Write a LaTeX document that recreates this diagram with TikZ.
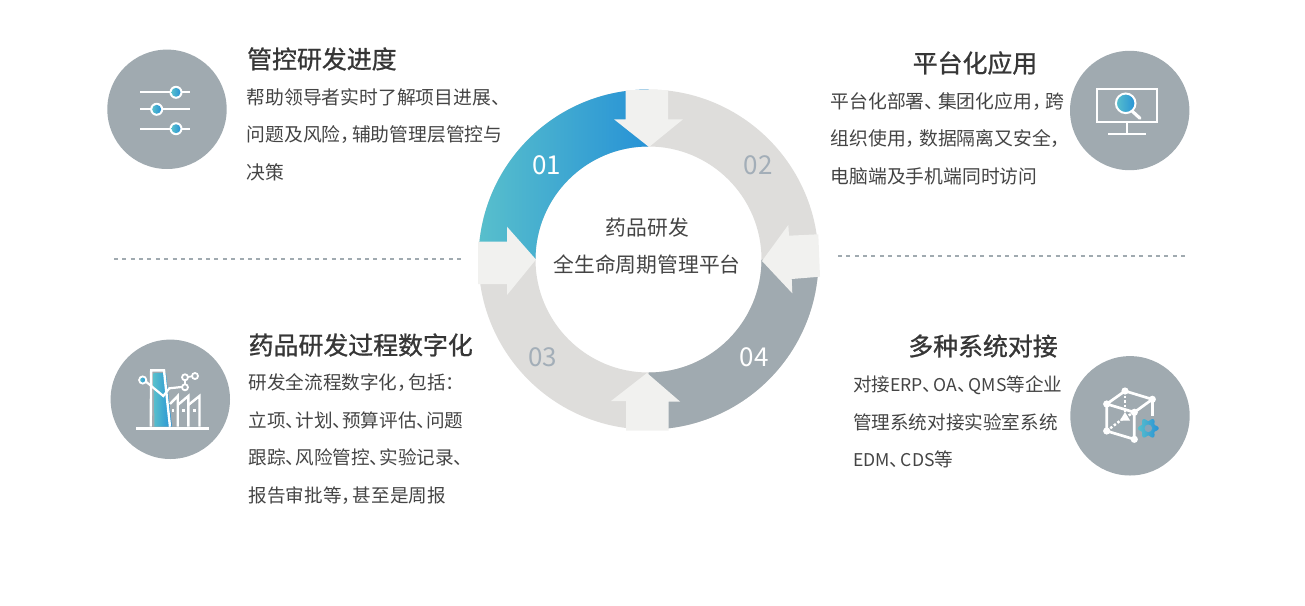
\documentclass[tikz,border=0pt]{standalone}
\usepackage{fontspec}
\setmainfont{Noto Sans CJK SC}
\newfontfamily\headfont[FakeBold=1.0]{Noto Sans CJK SC}
\usetikzlibrary{calc}
\definecolor{ringgray}{HTML}{DEDDDB}
\definecolor{arrowgray}{HTML}{F1F1EF}
\definecolor{slate}{HTML}{A0AAB0}
\definecolor{numgray}{HTML}{A3AEB8}
\definecolor{txtgray}{HTML}{444444}
\definecolor{blueL}{HTML}{58BFCC}
\definecolor{blueR}{HTML}{2792D6}
\newcommand{\dunhao}[1][7.5]{、\kern-#1pt}
\newcommand{\douhao}[1][7.5]{，\kern-#1pt}
\newcommand{\latn}[1]{{\fontsize{17.6}{37.5}\selectfont #1}}
\tikzset{
  titletxt/.style={inner sep=0pt,text=txtgray!80!black,font=\fontsize{24.9}{30}\selectfont\headfont},
  bodytxt/.style={inner sep=0pt,text=txtgray,align=left,anchor=north west,font=\fontsize{18.6}{37.5}\selectfont},
  bodywide/.style={bodytxt,font=\fontsize{18.8}{37.5}\selectfont},
  numtxt/.style={inner sep=0pt,font=\fontsize{26}{30}\selectfont},
  disc/.style={fill=slate},
  iconline/.style={draw=white,line width=2.4pt},
  bluefade/.style={left color=blueL,right color=blueR},
  divider/.style={draw=slate,line width=1.5pt,dash pattern=on 4pt off 4.37pt},
  pointer/.style={fill=arrowgray}
}
\begin{document}
\begin{tikzpicture}[x=1pt,y=1pt,yscale=-1]
  \useasboundingbox (0,0) rectangle (1305,605);

  %ring
  \fill[ringgray,even odd rule] (648.5,259.5) circle (170) (648.5,259.5) circle (113);
  \shade[bluefade] (478.5,259.5) arc (180:270:170) -- (648.5,146.5) arc (270:180:113) -- cycle;
  \fill[slate] (818.5,259.5) arc (0:90:170) -- (648.5,372.5) arc (90:0:113) -- cycle;

  %arrows between the segments
  \fill[pointer] (649,147) -- (614,119.3) -- (625.7,119.3) -- (625.7,90) -- (668,90) -- (668,119.3) -- (683,119.3) -- cycle;
  \fill[pointer] (536,259.5) -- (507,226.7) -- (507,241.7) -- (478,241.7) -- (478,284) -- (507,284) -- (507,295) -- cycle;
  \fill[pointer] (762,261) -- (788.3,225) -- (789,235.7) -- (818.3,234.3) -- (820,276.7) -- (791.7,279) -- (792.3,293.3) -- cycle;
  \fill[pointer] (647,373) -- (611,401) -- (626,401) -- (626,430.6) -- (668.7,430.6) -- (668.7,401.5) -- (680,401.5) -- cycle;

  %numbers
  \node[numtxt,text=white] (num01) at (546.8,165.5) {01};
  \node[numtxt,text=numgray] (num02) at (758.3,165.5) {02};
  \node[numtxt,text=numgray] (num03) at (542.8,357.5) {03};
  \node[numtxt,text=white] (num04) at (754,357.5) {04};

  %center
  \node[inner sep=0pt,text=txtgray,font=\fontsize{20.8}{20.8}\selectfont] (centerA) at (647.2,228) {药品研发};
  \node[inner sep=0pt,text=txtgray,font=\fontsize{20.8}{20.8}\selectfont] (centerB) at (647,265) {全生命周期管理平台};

  %dividers
  \draw[divider] (114,259) -- (461,259);
  \draw[divider,line width=1.2pt] (838,256) -- (1185,256);

  %top left
  \fill[disc] (167,109.3) circle (59.7);
  \foreach \y/\k in {92.3/176,109.3/156.7,128.7/176}{
    \draw[iconline,line width=2.2pt] (140,\y) -- (190,\y);
    \fill[white] (\k,\y) circle (6.5);
    \shade[bluefade] (\k,\y) circle (4.5);
  }
  \node[titletxt,anchor=west] (titleA) at (247,59) {管控研发进度};
  \node[bodywide] (bodyA) at (246.5,88) {帮助领导者实时了解项目进展\dunhao\\问题及风险\douhao 辅助管理层管控与\\决策};

  %top right
  \fill[disc] (1129.7,110.5) circle (59.7);
  \draw[iconline,line width=2.2pt] (1096.7,89.3) rectangle (1157.3,121.7);
  \draw[iconline,line width=2.2pt] (1126.7,121.7) -- (1126.7,133.7);
  \draw[iconline,line width=2.2pt] (1108.3,133.7) -- (1145.7,133.7);
  \draw[draw=white,line width=3.2pt,line cap=round] (1132,111) -- (1140,118.3);
  \shade[bluefade,draw=white,line width=2pt] (1125.7,103.3) circle (9.8);
  \node[titletxt,anchor=center] (titleB) at (975,63) {平台化应用};
  \node[bodywide] (bodyB) at (830.5,92) {平台化部署\dunhao[5.5] 集团化应用\douhao[5.5] 跨\\组织使用\douhao[5.5] 数据隔离又安全\douhao\\电脑端及手机端同时访问};

  %bottom left
  \fill[disc] (170.3,399.3) circle (59.7);
  \shade[bluefade] (153.5,373) -- (166,373) -- (172,426.7) -- (154.5,426.7) -- cycle;
  \draw[iconline] (150.7,426.7) -- (151.2,370.3) -- (164,370.3) -- (170,426.7);
  \draw[iconline] (170,404) -- (177.7,396) -- (177.7,426.7);
  \draw[iconline] (177.7,405) -- (188.3,396) -- (188.3,426.7);
  \draw[iconline] (188.3,405) -- (199.5,396) -- (199.5,426.7);
  \draw[iconline,line width=2.2pt] (146,381.7) -- (163.3,396) -- (169.3,388.3) -- (184.3,386.7);
  \draw[iconline,line width=1.8pt] (185,387.3) -- (185,377.3) -- (195,376);
  \foreach \x/\y in {185/377.3,195/376,185/387.3}
    \draw[draw=white,fill=slate,line width=1.8pt] (\x,\y) circle (3);
  \shade[bluefade,draw=white,line width=1.8pt] (142.7,380) circle (3.6);
  \foreach \x in {171.7,182.3,193.3}
    \fill[white] (\x,408.5) rectangle ++(2.2,3.5);
  \draw[iconline] (136,428.3) -- (209.3,428.3);
  \node[titletxt,anchor=west] (titleC) at (248.5,345) {药品研发过程数字化};
  \node[bodytxt] (bodyC) at (248.5,373.5) {研发全流程数字化\douhao 包括：\\立项\dunhao[9] 计划\dunhao[9] 预算评估\dunhao[9] 问题\\跟踪\dunhao[9] 风险管控\dunhao[9] 实验记录\dunhao[9]\\报告审批等\douhao 甚至是周报};

  %bottom right
  \fill[disc] (1130,415.8) circle (59.7);
  \draw[iconline,line width=2.7pt] (1106.7,404) -- (1125,391) -- (1152.3,399.3) -- (1134.3,412.3) -- cycle;
  \draw[iconline,line width=2.7pt] (1106.7,404) -- (1106.7,431) -- (1134.3,439.3) -- (1134.3,412.3);
  \draw[iconline,line width=2.7pt] (1152.3,399.3) -- (1152.3,416);
  \draw[iconline,dash pattern=on 2.5pt off 2pt] (1125,391) -- (1125,414);
  \draw[iconline,dash pattern=on 2.5pt off 2pt] (1106.7,431) -- (1123.3,418.3) -- (1134.3,412.3);
  \fill[white] (1125,412) -- (1130,420.5) -- (1120,420.5) -- cycle;
  \foreach \p/\r in {1106.7/404,1125/391,1152.3/399.3,1134.3/412.3,1106.7/431,1134.3/439.3}
    \fill[white] (\p,\r) circle (3.6);
  \shade[bluefade] plot[domain=0:360,samples=73,smooth] ({1148.3+(8.8+1.6*cos(6*\x))*cos(\x)},{428.3+(8.8+1.6*cos(6*\x))*sin(\x)}) -- cycle;
  \fill[slate!80!blueR] (1148.3,428.3) circle (3.8);
  \node[titletxt,anchor=center] (titleD) at (983,346) {多种系统对接};
  \node[bodytxt] (bodyD) at (852.8,376) {对接\latn{ERP}\dunhao\latn{OA}\dunhao\latn{QMS}等企业\\管理系统对接实验室系统\\\latn{EDM}\dunhao\latn{CDS}等};
\end{tikzpicture}
\end{document}
